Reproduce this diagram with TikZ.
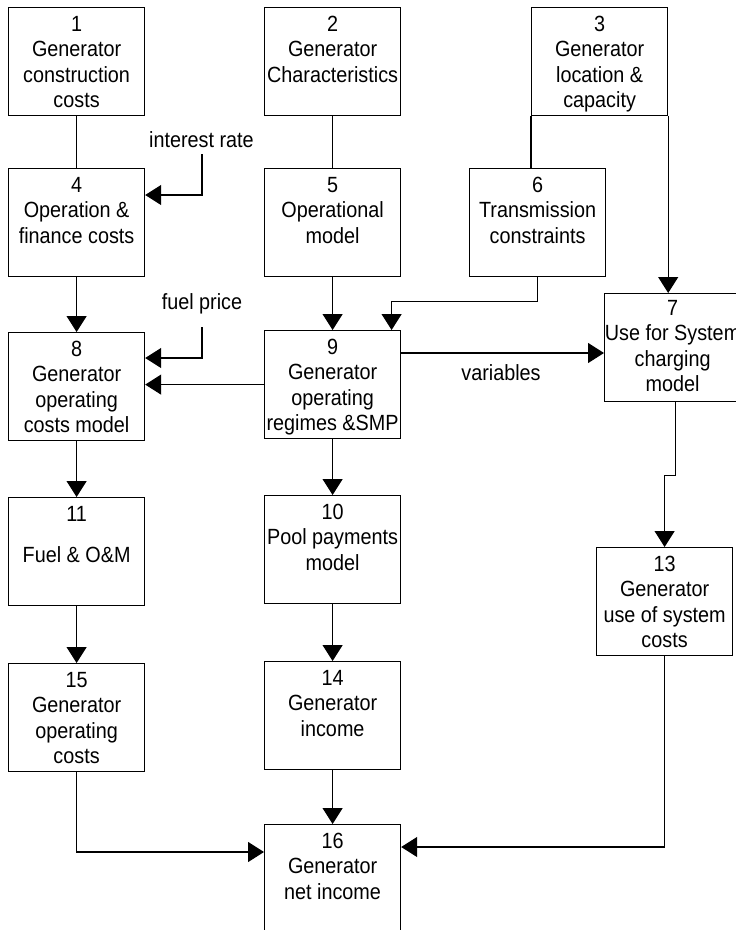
\documentclass[tikz,border=0pt]{standalone}
\usepackage{fontspec}
\setmainfont{Liberation Sans}[FakeStretch=0.9]
\usetikzlibrary{arrows.meta}
\begin{document}
\begin{tikzpicture}[x=1pt,y=-1pt,
  box/.style={draw, line width=1.2pt, minimum width=136pt, minimum height=108pt,
              inner sep=0pt, anchor=north west},
  txt/.style={anchor=north, align=center, inner sep=0pt,
              font=\fontsize{22}{25.5}\selectfont},
  lbl/.style={anchor=base, inner sep=0pt, font=\fontsize{22}{25.5}\selectfont},
  link/.style={line width=1.2pt},
  arr/.style={line width=1.2pt, -{Triangle[length=16pt,width=20pt]}}]
\useasboundingbox (0,0) rectangle (736,930);
\clip (0,0) rectangle (736,930);
\fill[white] (0,0) rectangle (736,930);

% boxes
\node[box] (b1)  at (8,7)     {};
\node[box] (b2)  at (264,7)   {};
\node[box] (b3)  at (531,7)   {};
\node[box] (b4)  at (8,168)   {};
\node[box] (b5)  at (264,168) {};
\node[box] (b6)  at (469,168) {};
\node[box] (b7)  at (604,293) {};
\node[box] (b8)  at (8,332)   {};
\node[box] (b9)  at (264,330) {};
\node[box] (b10) at (264,495) {};
\node[box] (b11) at (8,497)   {};
\node[box] (b13) at (596,547) {};
\node[box] (b14) at (264,661) {};
\node[box] (b15) at (8,663)   {};
\node[box] (b16) at (264,824) {};

% box texts
\newcommand{\fl}{\rule{0pt}{24pt}}
\node[txt] (t1)  at (b1.north)  {\fl 1\\Generator\\construction\\costs};
\node[txt] (t2)  at (b2.north)  {\fl 2\\Generator\\Characteristics};
\node[txt] (t3)  at (b3.north)  {\fl 3\\Generator\\location \&\\capacity};
\node[txt] (t4)  at (b4.north)  {\fl 4\\Operation \&\\finance costs};
\node[txt] (t5)  at (b5.north)  {\fl 5\\Operational\\model};
\node[txt] (t6)  at (b6.north)  {\fl 6\\Transmission\\constraints};
\node[txt] (t7)  at ([yshift=2pt]b7.north)  {\fl 7\\Use for System\\charging\\model};
\node[txt] (t8)  at (b8.north)  {\fl 8\\Generator\\operating\\costs model};
\node[txt] (t9)  at (b9.north)  {\fl 9\\Generator\\operating\\regimes \&SMP};
\node[txt] (t10) at (b10.north) {\fl 10\\Pool payments\\model};
\node[txt] (t11) at (b11.north) {\fl 11\\[16.2pt]Fuel \& O\&M};
\node[txt] (t13) at (b13.north) {\fl 13\\Generator\\use of system\\costs};
\node[txt] (t14) at (b14.north) {\fl 14\\Generator\\income};
\node[txt] (t15) at (b15.north) {\fl 15\\Generator\\operating\\costs};
\node[txt] (t16) at (b16.north) {\fl 16\\Generator\\net income};

% external inputs
\node[lbl] (ir) at (201.5,147) {interest rate};
\node[lbl] (fp) at (202,309)   {fuel price};
\node[lbl] (vr) at (501,380)   {variables};
\coordinate (irs) at (202,154);
\coordinate (fps) at (202,327);

% connectors
\draw[link] (b1.south) -- (b4.north);
\draw[link] (b2.south) -- (b5.north);
\draw[link] (b3.south west) -- (b3.south west |- b6.north);
\draw[arr]  (b3.south east) -- (b3.south east |- b7.north);
\draw[arr]  (irs) |- ([yshift=-27pt]b4.north east);
\draw[arr]  (b4.south) -- (b8.north);
\draw[arr]  (b5.south) -- (b9.north);
\draw[arr]  (b6.south) -- ++(0,24) -| ([xshift=59pt]b9.north);
\draw[arr]  (fps) |- ([yshift=-26pt]b8.north east);
\draw[arr]  (b9.west) -- (b9.west -| b8.east);
\draw[arr]  ([yshift=-23pt]b9.north east) -- ([yshift=-23pt]b9.north east -| b7.west);
\draw[arr]  ([xshift=3pt]b7.south) -- ++(0,73) -| (b13.north);
\draw[arr]  (b8.south) -- (b11.north);
\draw[arr]  (b9.south) -- (b10.north);
\draw[arr]  (b11.south) -- (b15.north);
\draw[arr]  (b10.south) -- (b14.north);
\draw[arr]  (b14.south) -- (b16.north);
\draw[arr]  (b15.south) |- ([yshift=-28pt]b16.north west);
\draw[arr]  (b13.south) |- ([yshift=-23pt]b16.north east);
\end{tikzpicture}
\end{document}
